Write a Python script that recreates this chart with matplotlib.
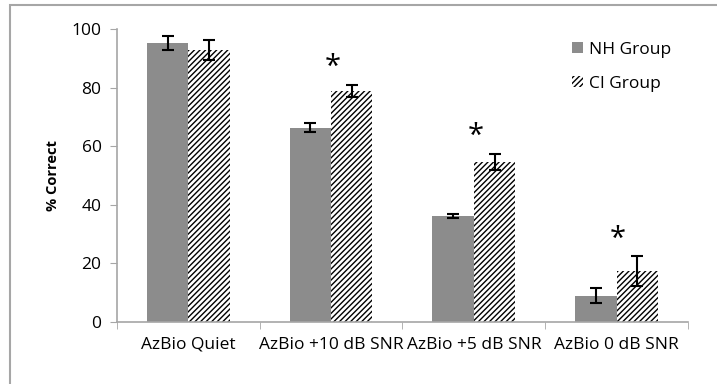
import matplotlib.pyplot as plt
import numpy as np
from matplotlib.patches import Rectangle

plt.rcParams.update({'font.family': ['Open Sans', 'DejaVu Sans'], 'font.size': 12.5,
                     'hatch.linewidth': 1.0})

# Data
categories = ['AzBio Quiet', 'AzBio +10 dB SNR', 'AzBio +5 dB SNR', 'AzBio 0 dB SNR']
nh_means = [95.2, 66.3, 36.2, 9.0]
nh_err = [2.5, 1.5, 0.6, 2.5]
ci_means = [92.8, 78.9, 54.7, 17.4]
ci_err = [3.4, 2.0, 2.7, 5.0]
significant = [False, True, True, True]


def make_chart():
    fig = plt.figure(figsize=(7.17, 3.84), dpi=100)
    ax = fig.add_axes([0.163, 0.1615, 0.7966, 0.763])

    # outer frame (only left and top edges visible in the original crop)
    fig.patches.append(Rectangle((10 / 717, -0.1), 1.2, (379 / 384) + 0.1,
                                 transform=fig.transFigure, fill=False,
                                 edgecolor='#a6a6a6', linewidth=1.5))

    x = np.arange(len(categories))
    width = 0.29

    ax.bar(x - width / 2, nh_means, width, color='#8c8c8c', label='NH Group',
           yerr=nh_err, capsize=4, error_kw=dict(elinewidth=1.5, capthick=1.5, ecolor='black'))
    ax.bar(x + width / 2, ci_means, width, color='white', edgecolor='black', linewidth=0,
           hatch='//////', label='CI Group',
           yerr=ci_err, capsize=4, error_kw=dict(elinewidth=1.5, capthick=1.5, ecolor='black'))

    # significance stars
    for i, sig in enumerate(significant):
        if sig:
            ax.annotate('*', (x[i] + 0.01, ci_means[i] + ci_err[i]),
                        xytext=(0, 2), textcoords='offset points',
                        ha='center', va='bottom', fontsize=21)

    ax.set_xlim(-0.5, len(categories) - 0.5)
    ax.set_ylim(0, 100)
    ax.set_yticks(np.arange(0, 101, 20))
    ax.set_xticks(x)
    ax.set_xticklabels(categories)
    ax.set_xticks(np.arange(-0.5, len(categories)), minor=True)
    ax.tick_params(axis='x', which='major', length=0, pad=10.5, labelsize=12.5)
    ax.tick_params(axis='x', which='minor', length=5, color='#a6a6a6', direction='out')
    ax.tick_params(axis='y', length=5, color='#a6a6a6', labelsize=12.5, pad=6)
    ax.set_ylabel('% Correct', fontweight='bold', fontsize=10.5, labelpad=8)

    for side in ['top', 'right']:
        ax.spines[side].set_visible(False)
    for side in ['left', 'bottom']:
        ax.spines[side].set_color('#a6a6a6')
        ax.spines[side].set_linewidth(1.2)

    ax.legend(loc='upper left', bbox_to_anchor=(0.77, 1.01), frameon=False,
              handlelength=0.6, handleheight=0.6, labelspacing=1.05, handletextpad=0.35,
              fontsize=12.5)

    plt.savefig('out.png', dpi=100)


if __name__ == "__main__":
    make_chart()
